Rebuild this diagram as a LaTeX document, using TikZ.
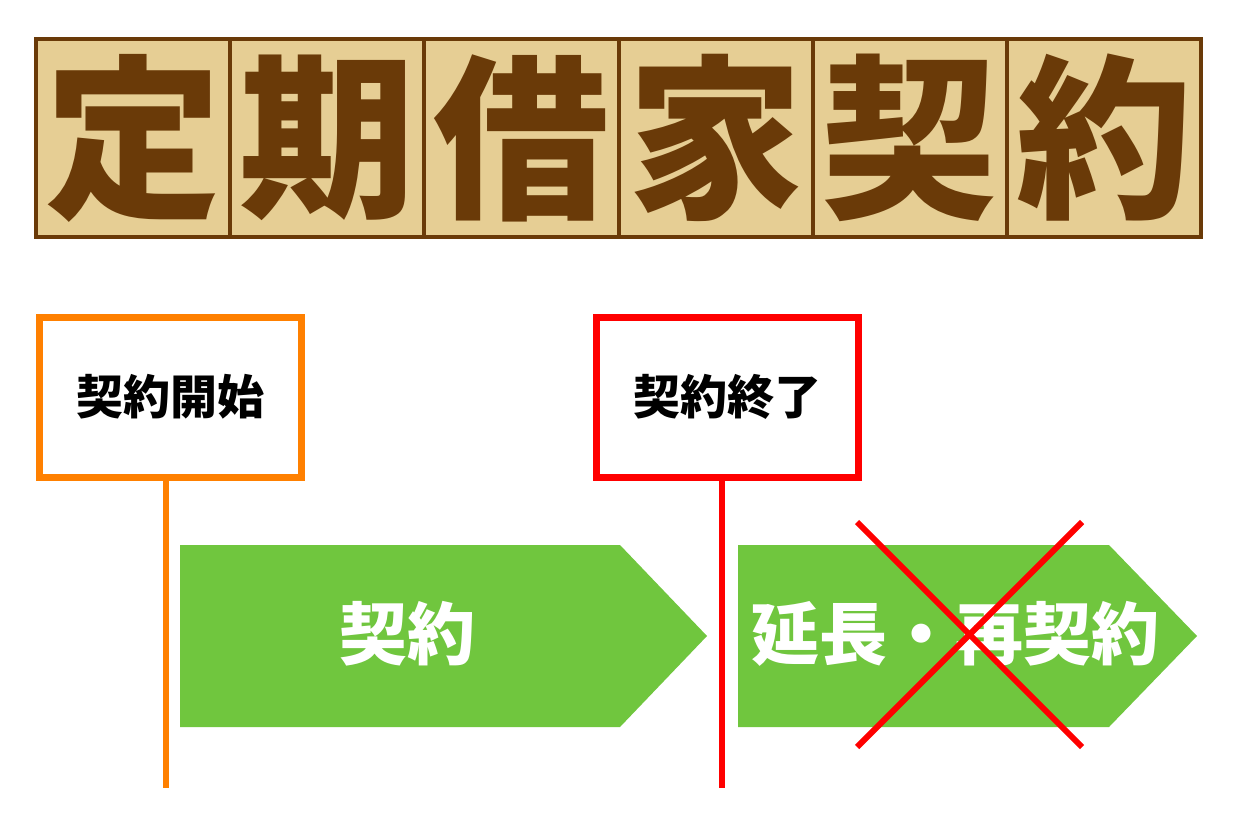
\documentclass[tikz,border=0pt]{standalone}
\usepackage{fontspec}
\newfontfamily\cjk{Noto Sans CJK JP}
\definecolor{tan}{RGB}{230,206,148}
\definecolor{brownx}{RGB}{106,58,8}
\definecolor{orangex}{RGB}{255,128,0}
\definecolor{redx}{RGB}{255,0,0}
\definecolor{greenx}{RGB}{112,198,62}
\tikzset{
  titlebox/.style={draw=brownx, fill=tan, line width=4pt, minimum width=194.2pt, minimum height=198pt, inner sep=0pt, text=brownx, font=\cjk\bfseries\fontsize{176}{176}\selectfont},
  signbox/.style={line width=7pt, fill=white, minimum width=262pt, minimum height=160pt, inner sep=0pt, font=\cjk\bfseries\fontsize{47}{47}\selectfont},
  stem/.style={line width=6.5pt},
  band/.style={fill=greenx},
  bandtext/.style={text=white, font=\cjk\bfseries\fontsize{68}{68}\selectfont, inner sep=0pt},
  cross/.style={draw=redx, line width=6pt}
}
\begin{document}
\begin{tikzpicture}[x=1pt,y=-1pt]
\path[use as bounding box, fill=white] (0,0) rectangle (1240,827);
% title
\foreach \c [count=\i from 0] in {定,期,借,家,契,約}{
  \node[titlebox] (t\i) at ({133.1+194.2*\i},138) {\raisebox{-1pt}{\c}};
}
% stems
\coordinate (s1) at (166,788);
\coordinate (s2) at (722,788);
% green bands
\path[band] (180,545) -- (620,545) -- (707,636) -- (620,727) -- (180,727) -- cycle;
\path[band] (738,545) -- (1109,545) -- (1197,636) -- (1109,727) -- (738,727) -- cycle;
\node[bandtext] (b1) at (407,634) {契約};
\node[bandtext] (b2) at (955,634) {延長・再契約};
% signs
\node[signbox, draw=orangex] (start) at (170,397) {契約開始};
\node[signbox, draw=redx] (end) at (727.5,397) {契約終了};
\draw[stem, draw=orangex] (start.south -| s1) -- (s1);
\draw[stem, draw=redx] (end.south -| s2) -- (s2);
% cross
\coordinate (xa) at (857,522);
\coordinate (xb) at (1082,747);
\coordinate (xc) at (1082,522);
\coordinate (xd) at (857,747);
\draw[cross] (xa) -- (xb);
\draw[cross] (xc) -- (xd);
\end{tikzpicture}
\end{document}
